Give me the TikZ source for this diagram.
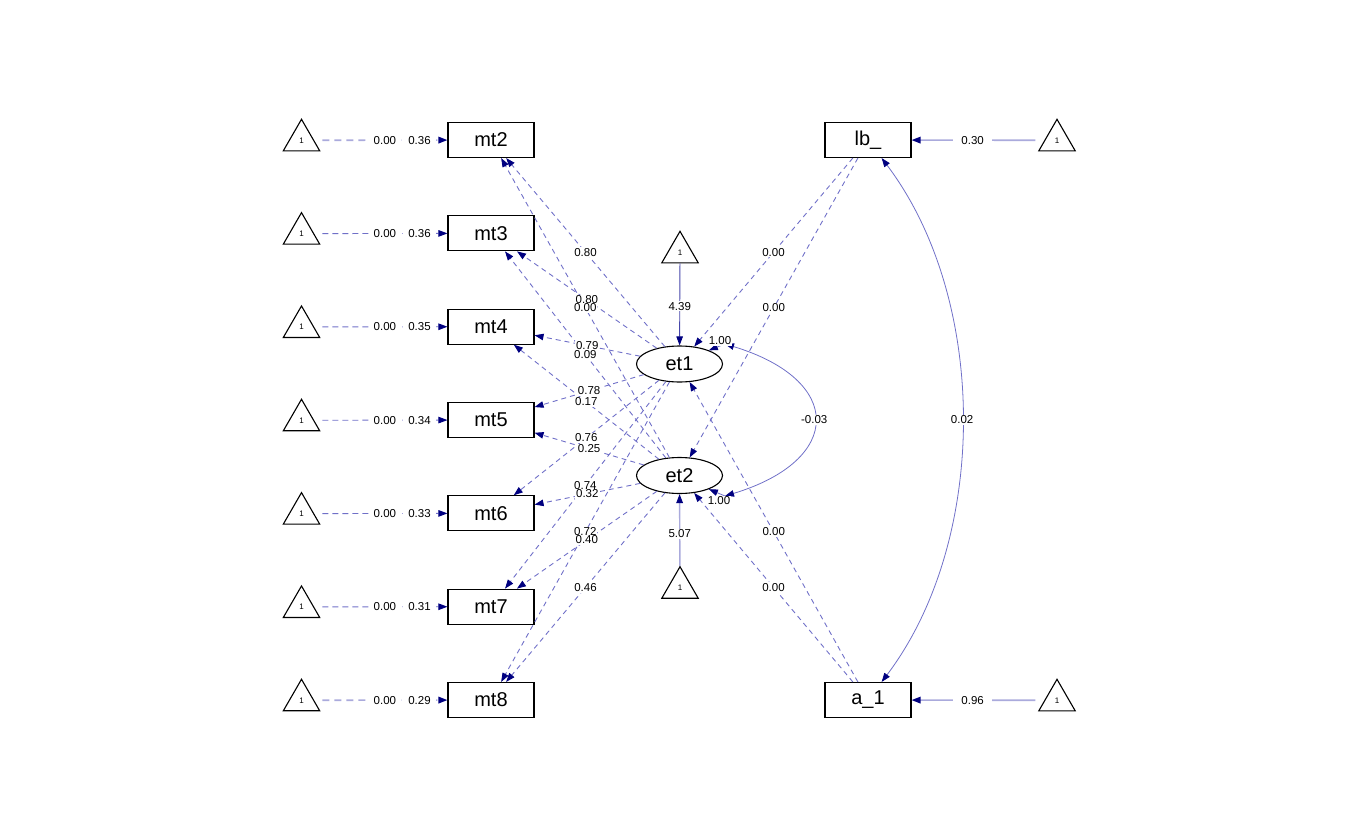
\documentclass[tikz,border=0pt]{standalone}
\usepackage{fontspec}
\setmainfont{Liberation Sans}
\usetikzlibrary{arrows.meta,shapes.geometric}

\definecolor{tipnavy}{RGB}{0,0,128}
\definecolor{edgeblue}{RGB}{112,112,200}
\definecolor{darkblue}{RGB}{70,70,170}
\definecolor{fadeblue}{RGB}{170,170,220}

\tikzset{
  manifest/.style={draw, line width=1.1pt, minimum width=86pt, minimum height=35pt,
    inner sep=0pt, font=\fontsize{20}{20}\selectfont},
  latent/.style={draw, ellipse, line width=1.1pt, minimum width=86pt, minimum height=36pt,
    inner sep=0pt, font=\fontsize{20}{20}\selectfont},
  unit/.style={draw, regular polygon, regular polygon sides=3, minimum size=42pt,
    line width=1.1pt, inner sep=0pt, font=\fontsize{8}{8}\selectfont},
  lbl/.style={fill=white, inner sep=1pt, font=\fontsize{11.5}{11.5}\selectfont},
  meanlbl/.style={lbl, inner xsep=5pt},
  tip/.style={-{Triangle[length=9pt,width=6.5pt,color=tipnavy]}},
  bitip/.style={{Triangle[length=9pt,width=6.5pt,color=tipnavy]}-{Triangle[length=9pt,width=6.5pt,color=tipnavy]}},
  loading/.style={tip, edgeblue, line width=0.9pt, dash pattern=on 5pt off 4pt},
  meanplain/.style={tip, edgeblue, line width=0.9pt, dash pattern=on 6pt off 4pt, shorten <=8pt},
  meanfaded/.style={tip, fadeblue, line width=1.6pt, dash pattern=on 7pt off 5pt, shorten <=8pt},
}

\begin{document}
\begin{tikzpicture}[x=1pt,y=-1pt]
\useasboundingbox (0,0) rectangle (1359,840);

% observed variables and their unit triangles
\foreach \k in {2,...,8} {
  \node[manifest] (mt\k) at (491,{140+93.33*(\k-2)}) {mt\k};
  \node[unit] (tri\k) at (301.5,{140.3+93.33*(\k-2)}) {1};
}
\node[manifest] (lb) at (868,140) {lb\_};
\node[manifest] (a1) at (868,700) {a\_1};
\node[unit] (trilb) at (1057,140.3) {1};
\node[unit] (tria1) at (1057,700.3) {1};

% latent growth factors
\node[latent] (et1) at (679.5,364) {et1};
\node[latent] (et2) at (679.5,475.5) {et2};
\node[unit] (trie1) at (680,252.3) {1};
\node[unit] (trie2) at (680,587.7) {1};
\coordinate (cv1) at (725,344);
\coordinate (cv2) at (725,496);

% edges
\foreach \k/\s in {2/meanfaded,3/meanplain,4/meanplain,5/meanplain,6/meanplain,7/meanplain,8/meanfaded}
  \draw[\s] (tri\k) -- (mt\k);
\draw[tip, fadeblue, line width=1.6pt, shorten <=9pt] (trilb) -- (lb);
\draw[tip, fadeblue, line width=1.6pt, shorten <=9pt] (tria1) -- (a1);
\draw[tip, darkblue, line width=0.9pt] (trie1) -- (et1);
\draw[tip, fadeblue, line width=1.4pt] (trie2) -- (et2);

\foreach \k in {2,...,8} \draw[loading] (et1) -- (mt\k);
\foreach \k in {2,...,8} \draw[loading] (et2) -- (mt\k);
\draw[loading] (lb) -- (et1);
\draw[loading] (lb) -- (et2);
\draw[loading] (a1) -- (et1);
\draw[loading] (a1) -- (et2);

\draw[tip, edgeblue, line width=0.8pt] (cv1) -- (et1.25);
\draw[tip, edgeblue, line width=0.8pt] (cv2) -- (et2.-25);
\draw[bitip, edgeblue, line width=0.8pt] (cv1) .. controls (844,380) and (844,460) .. (cv2);
\draw[bitip, edgeblue, line width=0.8pt] (lb) .. controls (989,300) and (989,540) .. (a1);

% labels
\foreach \k/\r in {2/0.36,3/0.36,4/0.35,5/0.34,6/0.33,7/0.31,8/0.29}
  \path (tri\k) -- (mt\k) node[meanlbl,pos=0.53] {0.00} node[meanlbl,pos=0.79] {\r};
\path (trilb) -- (lb) node[lbl,inner xsep=8pt,pos=0.54] {0.30};
\path (tria1) -- (a1) node[lbl,inner xsep=8pt,pos=0.54] {0.96};
\path (trie1) -- (et1) node[lbl,midway,yshift=-2pt] {4.39};
\path (trie2) -- (et2) node[lbl,midway,yshift=-4pt] {5.07};

\foreach \k/\v in {2/0.80,3/0.80,4/0.79,5/0.78,6/0.76,7/0.74,8/0.72}
  \path (et1) -- (mt\k) node[lbl,midway] {\v};
\foreach \k/\v in {2/0.00,3/0.09,4/0.17,5/0.25,6/0.32,7/0.40,8/0.46}
  \path (et2) -- (mt\k) node[lbl,midway] {\v};
\path (lb) -- (et1) node[lbl,midway] {0.00};
\path (lb) -- (et2) node[lbl,midway] {0.00};
\path (a1) -- (et1) node[lbl,midway] {0.00};
\path (a1) -- (et2) node[lbl,midway] {0.00};

\path (cv1) .. controls (844,380) and (844,460) .. (cv2) node[lbl,midway] {-0.03};
\path (lb) .. controls (989,300) and (989,540) .. (a1) node[lbl,midway] {0.02};
\node[lbl] (var1) at (720,341) {1.00};
\node[lbl] (var2) at (719,501) {1.00};
\end{tikzpicture}
\end{document}
